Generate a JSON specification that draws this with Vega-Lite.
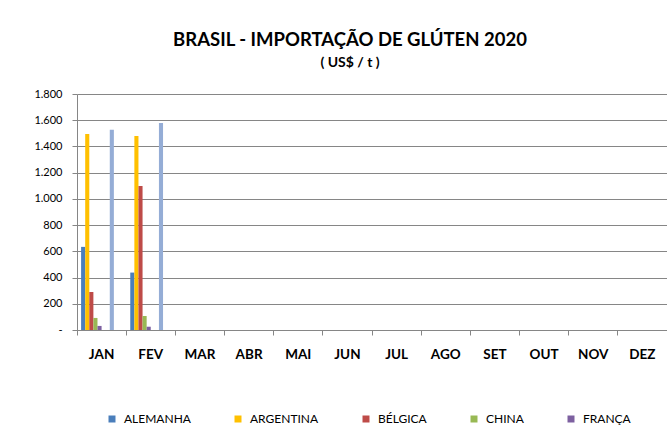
{
  "$schema": "https://vega.github.io/schema/vega-lite/v6.json",
  "width": 590,
  "height": 236,
  "autosize": {"type": "none"},
  "padding": {"left": 77, "top": 94, "right": 0, "bottom": 105},
  "background": "white",
  "title": {
    "text": "BRASIL - IMPORTAÇÃO DE GLÚTEN 2020",
    "subtitle": "( US$ / t )",
    "anchor": "middle",
    "dx": -22,
    "offset": 18,
    "font": "Lato",
    "fontSize": 18.5,
    "fontWeight": "bold",
    "color": "#000000",
    "subtitleFont": "Lato",
    "subtitleFontSize": 14,
    "subtitleFontWeight": "bold",
    "subtitleColor": "#000000",
    "subtitlePadding": 7
  },
  "data": {
    "values": [
      {"mes": "JAN", "pais": "ALEMANHA", "valor": 634},
      {"mes": "JAN", "pais": "ARGENTINA", "valor": 1495},
      {"mes": "JAN", "pais": "BÉLGICA", "valor": 290},
      {"mes": "JAN", "pais": "CHINA", "valor": 92},
      {"mes": "JAN", "pais": "FRANÇA", "valor": 31},
      {"mes": "JAN", "pais": "SÉRIE 8", "valor": 1528},
      {"mes": "FEV", "pais": "ALEMANHA", "valor": 438},
      {"mes": "FEV", "pais": "ARGENTINA", "valor": 1480},
      {"mes": "FEV", "pais": "BÉLGICA", "valor": 1098},
      {"mes": "FEV", "pais": "CHINA", "valor": 107},
      {"mes": "FEV", "pais": "FRANÇA", "valor": 25},
      {"mes": "FEV", "pais": "SÉRIE 8", "valor": 1579}
    ]
  },
  "mark": {"type": "bar"},
  "encoding": {
    "x": {
      "field": "mes",
      "type": "nominal",
      "sort": null,
      "scale": {
        "domain": ["JAN", "FEV", "MAR", "ABR", "MAI", "JUN", "JUL", "AGO", "SET", "OUT", "NOV", "DEZ"],
        "paddingInner": 0,
        "paddingOuter": 0
      },
      "axis": {
        "title": null,
        "labelAngle": 0,
        "bandPosition": 0,
        "labelFont": "Lato",
        "labelFontSize": 13.5,
        "labelFontWeight": "bold",
        "labelColor": "#000000",
        "labelPadding": 12,
        "tickSize": 5,
        "tickColor": "#868686",
        "domainColor": "#868686",
        "grid": false
      }
    },
    "xOffset": {
      "field": "pais",
      "type": "nominal",
      "scale": {
        "domain": ["ALEMANHA", "ARGENTINA", "BÉLGICA", "CHINA", "FRANÇA", "SÉRIE 6", "SÉRIE 7", "SÉRIE 8", "SÉRIE 9", "SÉRIE 10"],
        "paddingInner": 0,
        "paddingOuter": 1
      }
    },
    "y": {
      "field": "valor",
      "type": "quantitative",
      "scale": {"domain": [0, 1800], "nice": false},
      "axis": {
        "title": null,
        "values": [0, 200, 400, 600, 800, 1000, 1200, 1400, 1600, 1800],
        "labelExpr": "datum.value == 0 ? '-' : replace(format(datum.value, ','), ',', '.')",
        "labelFont": "Lato",
        "labelFontSize": 11,
        "labelColor": "#000000",
        "labelPadding": 10,
        "tickSize": 5,
        "tickColor": "#868686",
        "domainColor": "#868686",
        "gridColor": "#868686",
        "gridWidth": 1
      }
    },
    "color": {
      "field": "pais",
      "type": "nominal",
      "scale": {
        "domain": ["ALEMANHA", "ARGENTINA", "BÉLGICA", "CHINA", "FRANÇA", "SÉRIE 6", "SÉRIE 7", "SÉRIE 8", "SÉRIE 9", "SÉRIE 10"],
        "range": ["#4A7EBB", "#FFC000", "#BE4B48", "#98B954", "#7D60A0", "#46AAC5", "#F79646", "#95ADD6", "#2C4D75", "#772C2A"]
      },
      "legend": {
        "title": null,
        "orient": "none",
        "legendX": 29,
        "legendY": 319,
        "direction": "horizontal",
        "values": ["ALEMANHA", "ARGENTINA", "BÉLGICA", "CHINA", "FRANÇA"],
        "symbolType": "square",
        "symbolSize": 49,
        "symbolStrokeWidth": 0,
        "labelFont": "Lato",
        "labelFontSize": 12,
        "labelColor": "#000000",
        "labelOffset": 6,
        "columnPadding": 41
      }
    }
  },
  "config": {
    "view": {"stroke": null}
  }
}
